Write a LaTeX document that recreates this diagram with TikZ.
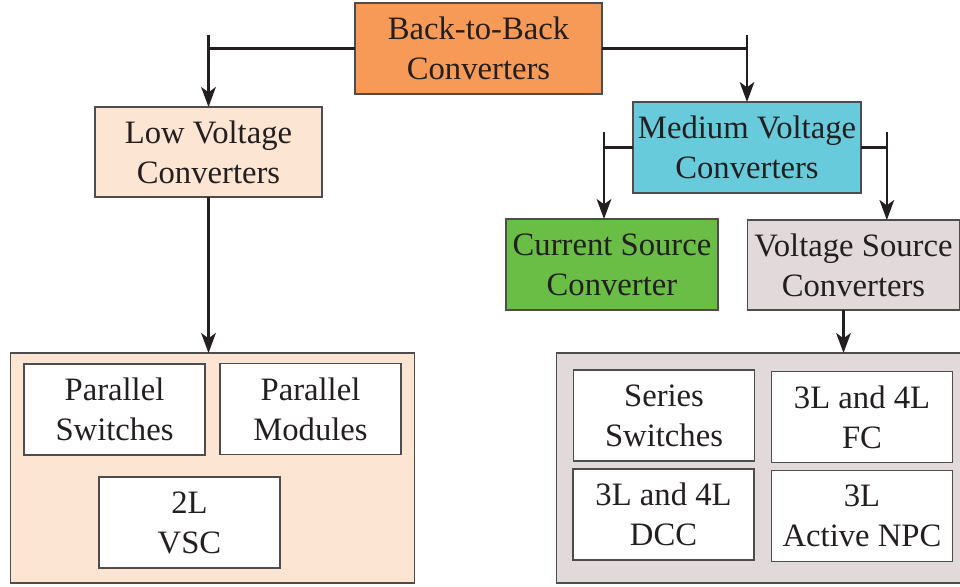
\documentclass[tikz,border=0pt]{standalone}
\usepackage{fontspec}
\setmainfont{Liberation Serif}
\usetikzlibrary{arrows.meta}
\definecolor{btbfill}{HTML}{F79A57}
\definecolor{lvfill}{HTML}{FDE5D3}
\definecolor{mvfill}{HTML}{67CBDC}
\definecolor{csfill}{HTML}{6ABD45}
\definecolor{vsfill}{HTML}{E2D9DA}
\definecolor{ink}{HTML}{231F20}
\begin{document}
\begin{tikzpicture}[x=0.75pt,y=-0.75pt,
  box/.style={draw=ink!80,line width=0.9pt,inner sep=0pt,outer sep=0pt,align=center,
    text=ink,font=\fontsize{24.5}{30}\selectfont},
  midbox/.style={box,minimum height=68.25pt},
  inbox/.style={box,fill=white,minimum width=135.75pt,minimum height=68.25pt},
  group/.style={box,minimum width=303pt,minimum height=172.5pt},
  link/.style={draw=ink,line width=1.8pt},
  arr/.style={link,-{Stealth[length=15pt,width=11pt,inset=4pt]}}]
  \useasboundingbox (0,0) rectangle (960,586);
  % top levels
  \node[midbox,fill=btbfill,minimum width=185.25pt] (btb) at (478.5,48.5) {Back-to-Back\\Converters};
  \node[midbox,fill=lvfill,minimum width=170.25pt,minimum height=67.5pt] (lv) at (208.5,152) {Low Voltage\\Converters};
  \node[midbox,fill=mvfill,minimum width=171pt] (mv) at (747,147.5) {Medium Voltage\\Converters};
  \node[midbox,fill=csfill,minimum width=159pt] (cs) at (612,264.5) {Current Source\\Converter};
  \node[midbox,fill=vsfill,minimum width=159pt,minimum height=67.5pt] (vs) at (853.5,265) {Voltage Source\\Converters};
  % groups of topologies
  \node[group,fill=lvfill] (lvg) at (212.5,468) {};
  \node[group,fill=vsfill] (mvg) at (758.5,468) {};
  \node[inbox] (pswitch) at (114.5,409.5) {Parallel\\Switches};
  \node[inbox] (pmod) at (310.5,409) {Parallel\\Modules};
  \node[inbox] (vsc) at (189.5,522.5) {2L\\VSC};
  \node[inbox] (sswitch) at (664,415.5) {Series\\Switches};
  \node[inbox] (fc) at (862,417) {3L and 4L\\FC};
  \node[inbox] (dcc) at (663.5,514.5) {3L and 4L\\DCC};
  \node[inbox] (npc) at (862,516) {3L\\Active NPC};
  % arrow ends that sit off the box centres
  \coordinate (csin) at ([xshift=-6pt]cs.north);
  \coordinate (vsin) at ([xshift=25pt]vs.north);
  \coordinate (vsout) at ([xshift=-7.5pt]vs.south);
  % connectors
  \draw[link] (btb.west) -- (btb.west -| lv.north);
  \draw[arr] ([yshift=10pt]btb.west -| lv.north) -- (lv.north);
  \draw[link] (btb.east) -- (btb.east -| mv.north);
  \draw[arr] ([yshift=10pt]btb.east -| mv.north) -- (mv.north);
  \draw[link] (mv.west) -- (mv.west -| csin);
  \draw[arr] ([yshift=12pt]mv.west -| csin) -- (csin);
  \draw[link] (mv.east) -- (mv.east -| vsin);
  \draw[arr] ([yshift=12pt]mv.east -| vsin) -- (vsin);
  \draw[arr] (lv.south) -- (lv.south |- lvg.north);
  \draw[arr] (vsout) -- (vsout |- mvg.north);
\end{tikzpicture}
\end{document}
